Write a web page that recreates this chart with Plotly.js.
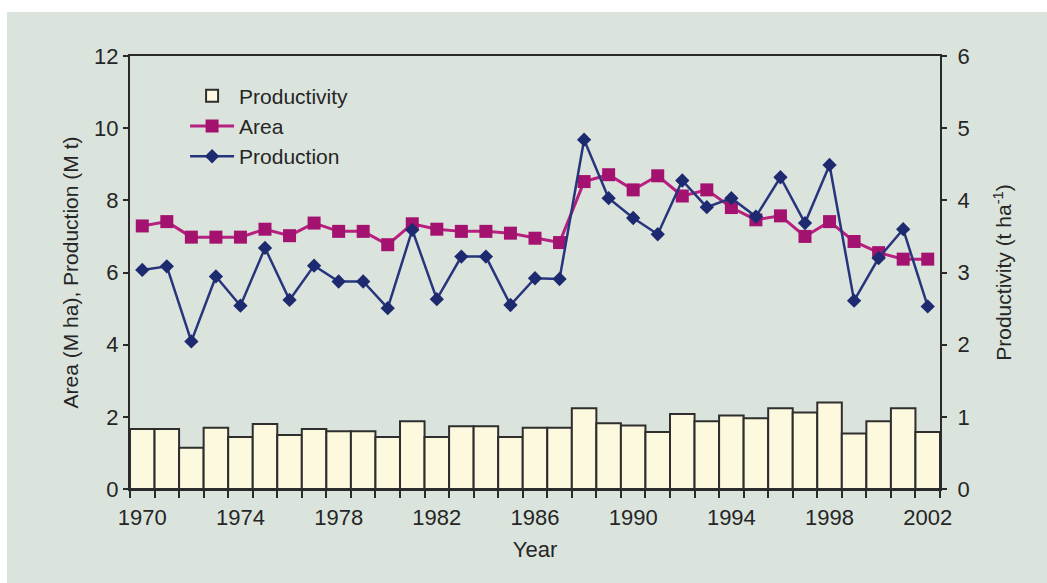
<!DOCTYPE html>
<html>
<head>
<meta charset="utf-8">
<script src="https://cdn.plot.ly/plotly-3.0.1.min.js"></script>
<style>
  html, body { margin: 0; padding: 0; background: #ffffff; }
  #chart { position: absolute; left: 7px; top: 12px; width: 1040px; height: 571px; }
</style>
</head>
<body>
<div id="chart"></div>
<script>
const years = [1970,1971,1972,1973,1974,1975,1976,1977,1978,1979,1980,1981,1982,1983,1984,1985,1986,
               1987,1988,1989,1990,1991,1992,1993,1994,1995,1996,1997,1998,1999,2000,2001,2002];
const productivity = [0.83,0.83,0.57,0.85,0.72,0.90,0.75,0.83,0.80,0.80,0.72,0.94,0.72,0.87,0.87,0.72,0.85,
                      0.85,1.12,0.91,0.88,0.79,1.04,0.94,1.02,0.98,1.12,1.06,1.20,0.77,0.94,1.12,0.79];
const area = [7.29,7.41,6.98,6.98,6.98,7.20,7.02,7.37,7.14,7.14,6.77,7.35,7.20,7.14,7.14,7.09,6.95,
              6.83,8.52,8.71,8.29,8.68,8.12,8.29,7.80,7.46,7.57,7.00,7.41,6.86,6.55,6.37,6.37];
const production = [6.07,6.17,4.09,5.89,5.08,6.68,5.24,6.19,5.75,5.75,5.01,7.18,5.26,6.44,6.44,5.10,5.84,
                    5.82,9.68,8.06,7.51,7.06,8.55,7.81,8.06,7.55,8.64,7.37,8.98,5.22,6.40,7.20,5.06];
const xTickLabels = ['1970','1974','1978','1982','1986','1990','1994','1998','2002'];
const xTickVals = xTickLabels.map(Number);
const boundaries = years.map(y => y - 0.5).concat([years[years.length - 1] + 0.5]);

const txt = '#262626';
const axisCol = '#2a2a2a';
const fam = 'Liberation Sans, Arial, sans-serif';
const fs = 22;

const traces = [
  {
    type: 'bar', name: 'Productivity', x: years, y: productivity, yaxis: 'y',
    marker: {color: '#fdf9de', line: {color: '#2e2e2e', width: 2}},
    width: 1
  },
  {
    type: 'scatter', mode: 'lines+markers', name: 'Area', x: years, y: area, yaxis: 'y2',
    line: {color: '#b8207f', width: 3},
    marker: {symbol: 'square', size: 13, color: '#a3126f'}
  },
  {
    type: 'scatter', mode: 'lines+markers', name: 'Production', x: years, y: production, yaxis: 'y2',
    line: {color: '#27357c', width: 2.5},
    marker: {symbol: 'diamond', size: 11, color: '#1e2a70'}
  }
];

const layout = {
  width: 1040, height: 571,
  paper_bgcolor: '#dbe4dc', plot_bgcolor: 'rgba(0,0,0,0)',
  font: {family: fam, size: fs, color: txt},
  margin: {l: 123, r: 107, t: 44, b: 94},
  bargap: 0,
  showlegend: true,
  legend: {
    x: 0.068, y: 0.955, xanchor: 'left', yanchor: 'top',
    bgcolor: 'rgba(0,0,0,0)', font: {family: fam, size: 21, color: txt},
    tracegroupgap: 0, itemwidth: 44
  },
  xaxis: {
    range: [1969.5, 2002.5], tickmode: 'array', tickvals: xTickVals, ticktext: xTickLabels,
    ticks: '', showgrid: false, zeroline: false, ticklabelstandoff: 8,
    showline: true, linecolor: axisCol, linewidth: 2, mirror: true,
    minor: {tickmode: 'array', tickvals: boundaries, ticks: 'outside', ticklen: 7, tickcolor: axisCol, tickwidth: 2, showgrid: false},
    tickfont: {size: fs, color: txt},
    title: {text: 'Year', font: {size: fs, color: txt}, standoff: 12}
  },
  yaxis: {
    side: 'right', range: [0, 6], dtick: 1, tick0: 0,
    ticks: 'outside', ticklen: 5, tickwidth: 2, tickcolor: axisCol, ticklabelstandoff: 6,
    showgrid: false, zeroline: false, showline: true, linecolor: axisCol, linewidth: 2,
    tickfont: {size: fs, color: txt},
    title: {text: 'Productivity (t ha<sup>-1</sup>)', font: {size: 21, color: txt}, standoff: 28}
  },
  yaxis2: {
    overlaying: 'y', side: 'left', range: [0, 12], dtick: 2, tick0: 0,
    ticks: 'outside', ticklen: 5, tickwidth: 2, tickcolor: axisCol,
    showgrid: false, zeroline: false, showline: true, linecolor: axisCol, linewidth: 2,
    tickfont: {size: fs, color: txt},
    title: {text: 'Area (M ha), Production (M t)', font: {size: 21, color: txt}, standoff: 10}
  }
};

Plotly.newPlot('chart', traces, layout, {displayModeBar: false, staticPlot: true});
</script>
</body>
</html>
